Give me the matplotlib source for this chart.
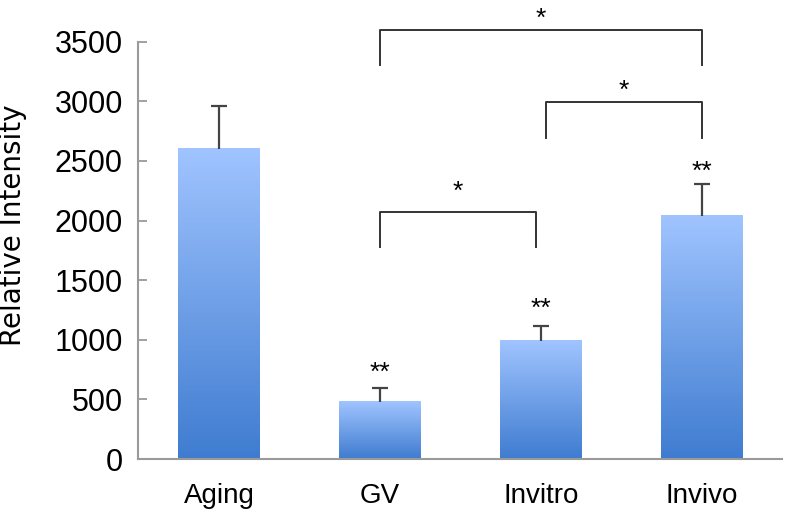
import numpy as np
import matplotlib
matplotlib.use("Agg")
import matplotlib.pyplot as plt
from matplotlib.colors import LinearSegmentedColormap

groups = ["Aging", "GV", "Invitro", "Invivo"]
intensity = [2600, 480, 990, 2040]
err_up = [360, 117, 124, 270]

# significance marks above bars
bar_marks = ["", "**", "**", "**"]
mark_centers = [0, 796, 1332, 2479]

# brackets: (left x, right x, top y, leg bottom y, label y center)
brackets = [
    (1.0, 1.97, 2071, 1776, 2312),
    (2.03, 3.0, 2990, 2688, 3157),
    (1.0, 3.0, 3601, 3300, 3760),
]

plt.rcParams['font.family'] = ['Liberation Sans', 'DejaVu Sans']

fig = plt.figure(figsize=(7.86, 5.14), dpi=100)
ax = fig.add_axes([0.1756, 0.107, 0.8194, 0.812])

x = np.arange(len(groups))
bars = ax.bar(x, intensity, width=0.51, color='none', edgecolor='none', zorder=2)

grad = LinearSegmentedColormap.from_list('bl', ['#3f7cd0', '#a0c4ff'])
for b in bars:
    x0, y0 = b.get_x(), b.get_y()
    w, h = b.get_width(), b.get_height()
    ax.imshow(np.linspace(0, 1, 256).reshape(-1, 1), cmap=grad, origin='lower',
              extent=(x0, x0 + w, y0, y0 + h), aspect='auto', zorder=2)

eb = ax.errorbar(x, intensity, yerr=[np.zeros(len(x)), err_up], fmt='none',
                 ecolor='#444444', elinewidth=1.6, capsize=5.5, capthick=1.6, zorder=3)
# only the upper cap is shown
eb[1][0].set_visible(False)

ax.set_xlim(-0.506, 3.5)
ax.set_ylim(0, 3500)
ax.set_yticks(range(0, 3501, 500))
ax.set_xticks(x)
ax.set_xticklabels(groups, fontsize=20)

for s in ['top', 'right']:
    ax.spines[s].set_visible(False)
for s in ['left', 'bottom']:
    ax.spines[s].set_color('#9a9a9a')
    ax.spines[s].set_linewidth(1.5)

ax.tick_params(axis='y', direction='in', length=6.5, width=1.3, color='#9a9a9a',
               labelsize=22, pad=11)
ax.tick_params(axis='x', length=0, pad=17)

ax.set_ylabel('Relative Intensity', fontsize=20, family=['DejaVu Sans'])
ax.yaxis.set_label_coords(-0.172, 0.56)

# px per data unit ~0.1194, asterisk center sits ~130 units above baseline
off = 130
for xi, m, yc in zip(x, bar_marks, mark_centers):
    if m:
        ax.text(xi, yc - off, m, ha='center', va='baseline', fontsize=19)

for xl, xr, yt, yb, ys in brackets:
    ax.plot([xl, xl, xr, xr], [yb, yt, yt, yb], color='#333333', lw=1.4,
            clip_on=False, zorder=3)
    ax.text((xl + xr) / 2, ys - off, '*', ha='center', va='baseline',
            fontsize=19, clip_on=False)

fig.savefig('out.png', dpi=100)
